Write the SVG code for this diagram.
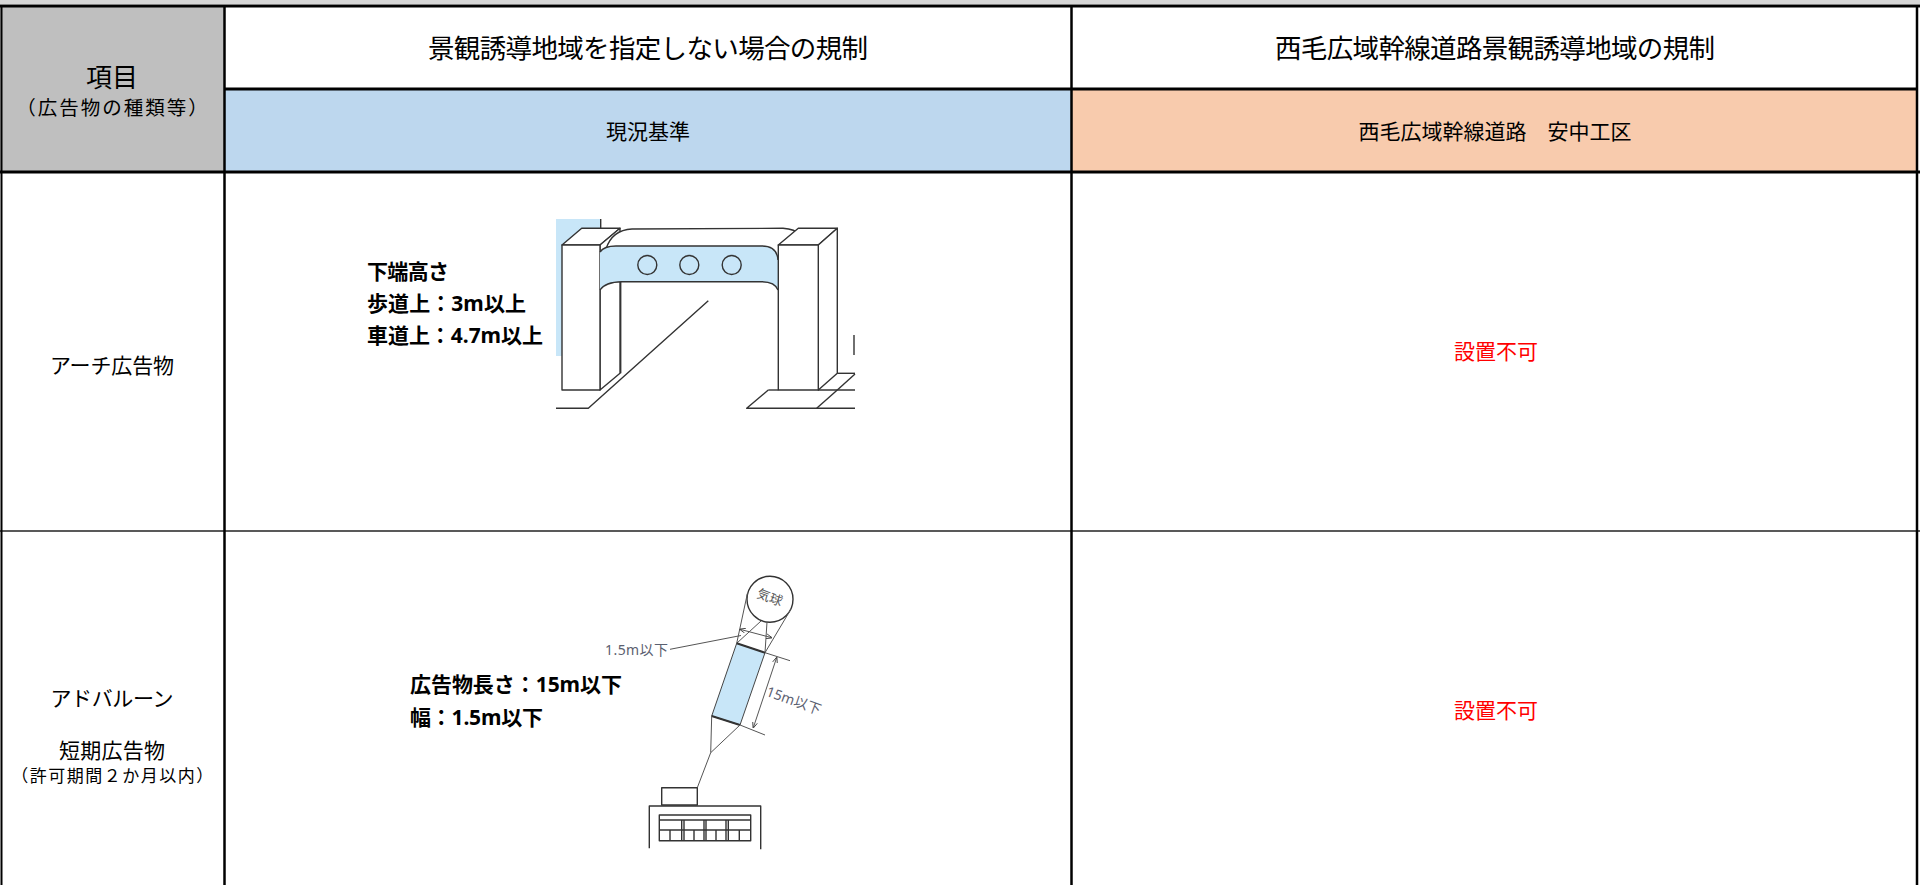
<svg xmlns="http://www.w3.org/2000/svg" width="1920" height="885" viewBox="0 0 1920 885">
<style>
text{font-family:"Noto Sans","Noto Sans CJK JP",sans-serif;fill:#000;dominant-baseline:central}
.c{text-anchor:middle}
.h{font-size:26.5px}
.sub{font-size:21px}
.item{font-size:21px}
.b{font-size:21px;font-weight:bold}
.red{fill:#ff0000;font-size:21px}
.ln{fill:none;stroke:#333;stroke-width:1.4;stroke-linejoin:round}
.wf{fill:#fff;stroke:#333;stroke-width:1.4;stroke-linejoin:round}
.thin{fill:none;stroke:#555;stroke-width:1}
.lbl{font-size:14px;fill:#5b6070}
</style>
<defs>
<marker id="ah" viewBox="0 0 10 10" refX="9" refY="5" markerWidth="6" markerHeight="6" orient="auto-start-reverse"><path d="M0,1 L10,5 L0,9" fill="none" stroke="#444" stroke-width="1.5"/></marker>
</defs>
<rect x="0" y="0" width="1920" height="885" fill="#fff"/>
<rect x="0" y="0" width="1920" height="4" fill="#d6d6d6"/>

<g id="cell-item-header">
<rect x="0" y="6" width="224" height="166" fill="#bfbfbf"/>
<text class="c" x="112" y="77" style="font-size:26px">項目</text>
<text class="c" x="113" y="107" style="font-size:19.5px;letter-spacing:2px">（広告物の種類等）</text>
</g>
<g id="cell-header-left">
<text class="c h" x="648" y="48" textLength="440">景観誘導地域を指定しない場合の規制</text>
</g>
<g id="cell-header-right">
<text class="c h" x="1495" y="48" textLength="440">西毛広域幹線道路景観誘導地域の規制</text>
</g>
<g id="cell-sub-left">
<rect x="224" y="89" width="847" height="83" fill="#bdd7ee"/>
<text class="c sub" x="648" y="131">現況基準</text>
</g>
<g id="cell-sub-right">
<rect x="1071" y="89" width="846" height="83" fill="#f8cbad"/>
<text class="c sub" x="1495" y="131">西毛広域幹線道路　安中工区</text>
</g>

<g id="row1-item"><text class="c item" x="112" y="365" textLength="124">アーチ広告物</text></g>
<g id="row1-rule">
<text class="b" x="367" y="271" textLength="82">下端高さ</text>
<text class="b" x="367" y="303" textLength="159">歩道上：3m以上</text>
<text class="b" x="367" y="335" textLength="176">車道上：4.7m以上</text>
<g id="arch-figure">
<rect x="556" y="219" width="45" height="137" fill="#c8e6f8"/>
<line class="ln" x1="600.7" y1="219" x2="600.7" y2="228"/>
<!-- left pillar -->
<path class="wf" d="M562,245 L581.7,228.3 L620,228.3 L600,245 Z"/>
<path class="wf" d="M600,245 L620,228.3 L620,373.3 L600,390 Z"/>
<rect class="wf" x="562" y="245" width="38" height="145"/>
<!-- band top surface -->
<path d="M606,249 Q612,230 632,229 L783,228.3 Q795,229 800,235 L778,246 L610,247 Z" fill="#fff" stroke="none"/>
<path class="ln" d="M606,249 Q612,230 632,229 L783,228.3 Q795,229 800,235"/>
<!-- band front (blue) -->
<path d="M600,252 Q604,246 616,246 L762,246 Q777,246 778,260 L778,290 Q775,282 762,281.7 L622,281.7 Q605,282 600,290 Z" fill="#c8e6f8"/>
<path class="ln" d="M600,252 Q604,246 616,246 L762,246 Q777,246 778,260"/>
<path class="ln" d="M600,290 Q605,282 622,281.7 L762,281.7 Q775,282 778,290"/>
<circle class="ln" cx="647.3" cy="265" r="9.5"/>
<circle class="ln" cx="689.3" cy="265" r="9.5"/>
<circle class="ln" cx="731.7" cy="265" r="9.5"/>
<!-- inner left pillar edge -->
<line class="ln" x1="620.7" y1="281.7" x2="620.7" y2="373.3"/>
<!-- right pillar -->
<path class="wf" d="M778.3,245 L798.3,228.3 L837.3,228.3 L818.3,245 Z"/>
<path class="wf" d="M818.3,245 L837.3,228.3 L837.3,373.3 L818.3,390 Z"/>
<rect class="wf" x="778.3" y="245" width="40" height="145"/>
<!-- ground -->
<polyline class="ln" points="556,408.3 588.3,408.3 708.3,300.7"/>
<polyline class="ln" points="768.3,390 746.7,408.3 855,408.3"/>
<line class="ln" x1="768.3" y1="390" x2="778.3" y2="390"/>
<line class="ln" x1="818.3" y1="390" x2="855" y2="390"/>
<line class="ln" x1="816.7" y1="408.3" x2="837.3" y2="390"/>
<line class="ln" x1="837.3" y1="373.3" x2="855" y2="373.3"/>
<line class="ln" x1="837.3" y1="390" x2="855" y2="374"/>
<line class="ln" x1="854" y1="335" x2="854" y2="355"/>
</g>
</g>
<g id="row1-rule-right"><text class="c red" x="1496" y="351">設置不可</text></g>

<g id="row2-item">
<text class="c item" x="112" y="698" textLength="123">アドバルーン</text>
<text class="c item" x="112" y="750" textLength="106">短期広告物</text>
<text class="c" x="113" y="775" style="font-size:17px;letter-spacing:1.5px">（許可期間２か月以内）</text>
</g>
<g id="row2-rule">
<text class="b" x="410" y="684" textLength="212">広告物長さ：15m以下</text>
<text class="b" x="410" y="717" textLength="133">幅：1.5m以下</text>
<g id="balloon-figure">
<circle class="ln" cx="770" cy="599.3" r="23"/>
<text class="c" x="770" y="597" style="font-size:13px;fill:#555" transform="rotate(20 770 597)">気球</text>
<line class="thin" x1="747.5" y1="593" x2="736.7" y2="643.3"/>
<line class="thin" x1="791" y1="609" x2="765" y2="652.7"/>
<line class="thin" x1="761" y1="621" x2="736.7" y2="643.3"/>
<line class="thin" x1="767" y1="622" x2="765" y2="652.7"/>
<line class="thin" x1="740" y1="629.3" x2="771.7" y2="637.7" marker-start="url(#ah)" marker-end="url(#ah)"/>
<line class="thin" x1="670" y1="649.3" x2="741" y2="635.5"/>
<text class="lbl" x="668" y="649.5" text-anchor="end" textLength="63">1.5m以下</text>
<path d="M736.7,643.3 L765,652.7 L740,725 L711.7,716 Z" fill="#c8e6f8" stroke="#444" stroke-width="1"/>
<line x1="736.7" y1="643.3" x2="765" y2="652.7" stroke="#333" stroke-width="2"/>
<line x1="711.7" y1="716" x2="740" y2="725" stroke="#333" stroke-width="2"/>
<line class="thin" x1="765" y1="652.7" x2="790" y2="660.7"/>
<line class="thin" x1="740" y1="725" x2="765" y2="735"/>
<line class="thin" x1="776.7" y1="657.5" x2="753.3" y2="727.7" marker-start="url(#ah)" marker-end="url(#ah)"/>
<text class="lbl" x="794" y="700" text-anchor="middle" transform="rotate(20 794 700)">15m以下</text>
<polyline class="thin" points="711.7,716 710.7,752.7 740,725"/>
<line class="thin" x1="710.7" y1="752.7" x2="697.3" y2="787.7"/>
<rect class="ln" x="661.7" y="787.7" width="35.6" height="17.3"/>
<polyline class="ln" points="649.3,848.3 649.3,806 760.7,806 760.7,849.3"/>
<rect class="ln" x="659.3" y="815" width="91.4" height="25.7"/>
<line class="ln" x1="659.3" y1="820" x2="750.7" y2="820"/>
<line class="ln" x1="659.3" y1="830" x2="750.7" y2="830"/>
<path class="ln" d="M681.7,820V840.7M684,820V840.7M704,820V840.7M706,820V840.7M726,820V840.7M728.3,820V840.7"/>
<path class="ln" d="M670,830V840.7M694,830V840.7M716,830V840.7M739.3,830V840.7"/>
</g>
</g>
<g id="row2-rule-right"><text class="c red" x="1496" y="710">設置不可</text></g>

<g id="grid" stroke="#000" fill="none">
<line x1="0" y1="6" x2="1920" y2="6" stroke-width="3"/>
<line x1="224" y1="89" x2="1917" y2="89" stroke-width="3"/>
<line x1="0" y1="172" x2="1920" y2="172" stroke-width="3"/>
<line x1="0" y1="531" x2="1920" y2="531" stroke-width="1.5" stroke="#222"/>
<line x1="1.5" y1="6" x2="1.5" y2="885" stroke-width="2"/>
<line x1="224.5" y1="6" x2="224.5" y2="885" stroke-width="2.5"/>
<line x1="1071.5" y1="6" x2="1071.5" y2="885" stroke-width="2.5"/>
<line x1="1917" y1="6" x2="1917" y2="885" stroke-width="2.5"/>
</g>
</svg>
